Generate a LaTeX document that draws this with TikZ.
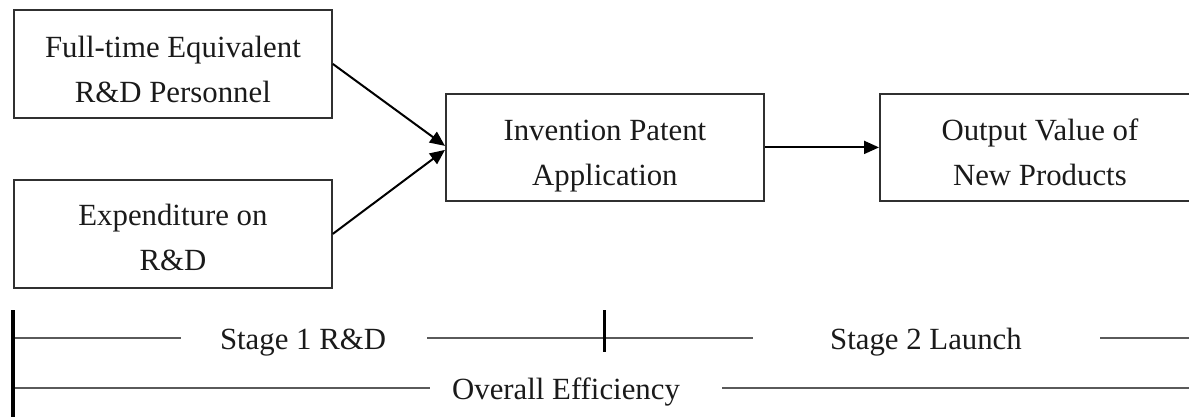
\documentclass[tikz,border=0pt]{standalone}
\usepackage{fontspec}
\setmainfont{Liberation Serif}
\usetikzlibrary{arrows.meta,calc}
\definecolor{ink}{HTML}{1A1A1A}
\definecolor{edge}{HTML}{303030}
\definecolor{rulegray}{HTML}{5A5A5A}
\begin{document}
\begin{tikzpicture}[x=1pt,y=-1pt,
  box/.style={draw=edge,line width=1.8pt,inner sep=0pt,anchor=north west,minimum width=318pt,minimum height=108pt},
  txt/.style={font=\fontsize{30.8}{45}\selectfont,text=ink,align=center,inner sep=0pt,anchor=base},
  arr/.style={draw=black,line width=2pt,-{Triangle[length=15pt,width=13pt]}},
  rl/.style={draw=rulegray,line width=1.8pt},
  bar/.style={draw=black,line width=4pt},
  tick/.style={draw=black,line width=3pt}]
\useasboundingbox (0,0) rectangle (1189,416);
\clip (0,0) rectangle (1189,416);
% boxes
\node[box] (b1) at (13,9) {};
\node[box] (b2) at (13,179) {};
\node[box,minimum width=318pt,minimum height=107pt] (b3) at (445,93) {};
\node[box,minimum width=320pt,minimum height=107pt] (b4) at (879,93) {};
% texts (base = baseline of the last line)
\node[txt] (t1) at ($(b1.north)+(0,93)$) {Full-time Equivalent\\R\&D Personnel};
\node[txt] (t2) at ($(b2.north)+(0,91)$) {Expenditure on\\R\&D};
\node[txt] (t3) at ($(b3.north)+(0,92)$) {Invention Patent\\Application};
\node[txt] (t4) at ($(b4.north)+(0,92)$) {Output Value of\\New Products};
% arrows
\draw[arr] (b1.east) -- ($(b3.west)+(0,-1.5)$);
\draw[arr] (b2.east) -- ($(b3.west)+(0,2.5)$);
\draw[arr] (b3.east) -- (b4.west);
% timeline
\coordinate (barTop) at (13,310);
\coordinate (barBot) at (13,420);
\coordinate (r1a) at (13,338);
\coordinate (r1b) at (181,338);
\coordinate (r1c) at (427,338);
\coordinate (r1d) at (753,338);
\coordinate (r1e) at (1100,338);
\coordinate (r1f) at (1195,338);
\coordinate (r2a) at (13,388);
\coordinate (r2b) at (430,388);
\coordinate (r2c) at (722,388);
\coordinate (r2d) at (1195,388);
\coordinate (tkTop) at (604,310);
\coordinate (tkBot) at (604,352);
\node[txt] (s1) at (303,349) {Stage 1 R\&D};
\node[txt] (s2) at (926,349) {Stage 2 Launch};
\node[txt] (s3) at (566,399) {Overall Efficiency};
\draw[rl] (r1a) -- (r1b);
\draw[rl] (r1c) -- (r1d);
\draw[rl] (r1e) -- (r1f);
\draw[rl] (r2a) -- (r2b);
\draw[rl] (r2c) -- (r2d);
\draw[tick] (tkTop) -- (tkBot);
\draw[bar] (barTop) -- (barBot);
\end{tikzpicture}
\end{document}
